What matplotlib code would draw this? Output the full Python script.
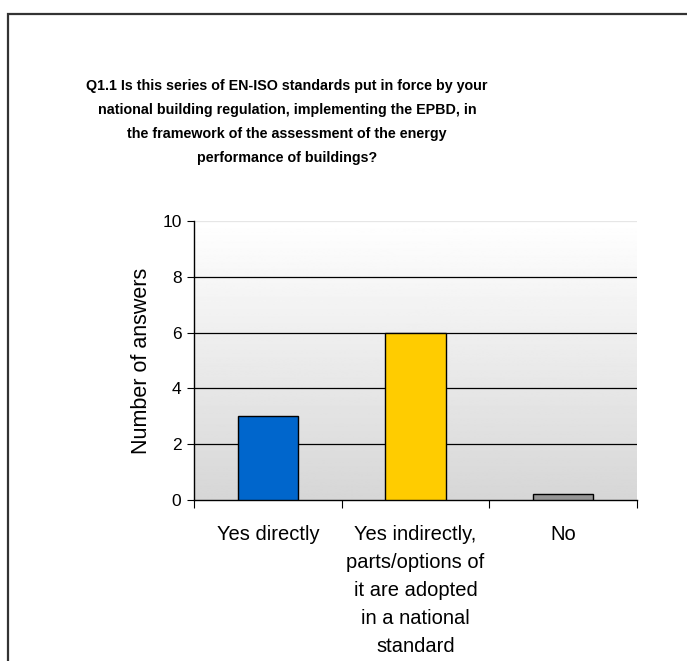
import numpy as np
import matplotlib
matplotlib.use("Agg")
import matplotlib.pyplot as plt
from matplotlib.patches import Rectangle

plt.rcParams['font.family'] = ['Liberation Sans', 'DejaVu Sans']

### answer categories and counts for Q1.1
categories = ["Yes directly",
              "Yes indirectly,\nparts/options of\nit are adopted\nin a national\nstandard",
              "No"]
answers = [3, 6, 0.2]
bar_colors = ["#0066cc", "#ffcc00", "#969696"]
yticks = [0, 2, 4, 6, 8, 10]

title = ("Q1.1 Is this series of EN-ISO standards put in force by your\n"
         "national building regulation, implementing the EPBD, in\n"
         "the framework of the assessment of the energy\n"
         "performance of buildings?")

W, H = 687, 661
fig = plt.figure(figsize=(W / 100, H / 100), dpi=100)

# plot area in pixels: left 194, right 637, top 221, bottom 500
ax = fig.add_axes([194 / W, 1 - 500 / H, (637 - 194) / W, (500 - 221) / H])

# outer chart frame (runs off the right and bottom edges)
fig.patches.append(Rectangle((8 / W, -0.1), 1.2, 1 - 14 / H + 0.1,
                             transform=fig.transFigure, fill=False,
                             edgecolor="#333333", linewidth=1.6))

# vertical gradient, white at the top to light grey at the bottom
grad = np.linspace(1.0, 0.84, 256).reshape(-1, 1)
ax.imshow(grad, cmap="gray", vmin=0, vmax=1, aspect="auto",
          extent=[-0.5, 2.5, 0, 10], origin="upper", zorder=0)

x = np.arange(len(categories))
ax.bar(x, answers, width=0.41, color=bar_colors, edgecolor="black",
       linewidth=1.0, zorder=3)

for y in yticks[1:-1]:
    ax.axhline(y, color="black", linewidth=0.9, zorder=1)
ax.axhline(10, color="#e6e6e6", linewidth=0.9, zorder=1)

ax.set_xlim(-0.5, 2.5)
ax.set_ylim(0, 10)
ax.set_yticks(yticks)
ax.tick_params(axis="y", labelsize=12.5, length=5, direction="out", pad=4)

ax.set_xticks([-0.5, 0.5, 1.5, 2.5])
ax.set_xticklabels([])
ax.tick_params(axis="x", length=6, direction="out")
for xi, lab in zip(x, categories):
    ax.text(xi, -0.9, lab, ha="center", va="top", fontsize=14.5,
            linespacing=1.6, transform=ax.transData)

for s in ["top", "right"]:
    ax.spines[s].set_visible(False)
ax.spines["left"].set_linewidth(1.0)
ax.spines["bottom"].set_linewidth(1.0)

ax.set_ylabel("Number of answers", fontsize=15.5, labelpad=7)

fig.text(287 / W, 1 - 79 / H, title, ha="center", va="top", fontsize=10.3,
         fontweight="bold", linespacing=1.9)

fig.savefig("out.png", dpi=100)
